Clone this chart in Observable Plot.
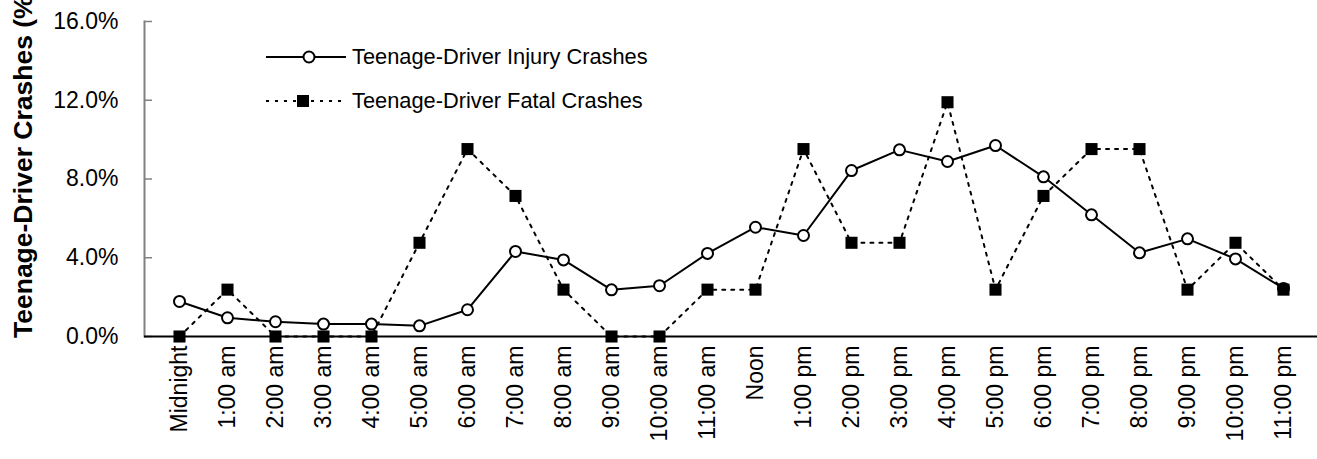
<!DOCTYPE html>
<html><head><meta charset="utf-8">
<script src="https://cdn.jsdelivr.net/npm/d3@7"></script>
<script src="https://cdn.jsdelivr.net/npm/@observablehq/plot@0.6"></script>
<style>
body{margin:0;background:#fff;font-family:"Liberation Sans",Arial,sans-serif;}
#wrap{position:relative;width:1317px;height:459px;overflow:hidden;background:#fff;}
.legend{position:absolute;left:266px;height:24px;font-size:21.8px;display:flex;align-items:center;color:#000;white-space:nowrap;}
.legend svg{margin-right:6px;}
</style></head><body><div id="wrap"></div>
<script>
const hours = ["Midnight","1:00 am","2:00 am","3:00 am","4:00 am","5:00 am","6:00 am","7:00 am","8:00 am","9:00 am","10:00 am","11:00 am","Noon","1:00 pm","2:00 pm","3:00 pm","4:00 pm","5:00 pm","6:00 pm","7:00 pm","8:00 pm","9:00 pm","10:00 pm","11:00 pm"];
const injury = [1.78, 0.95, 0.75, 0.63, 0.63, 0.54, 1.36, 4.32, 3.89, 2.37, 2.58, 4.22, 5.55, 5.13, 8.43, 9.48, 8.89, 9.70, 8.11, 6.18, 4.25, 4.96, 3.94, 2.44];
const fatal = [0, 2.38, 0, 0, 0, 4.76, 9.52, 7.14, 2.38, 0, 0, 2.38, 2.38, 9.52, 4.76, 4.76, 11.90, 2.38, 7.14, 9.52, 9.52, 2.38, 4.76, 2.38];
const yTicks = [0, 4, 8, 12, 16];
const seriesNames = ["Teenage-Driver Injury Crashes", "Teenage-Driver Fatal Crashes"];
const yLabel = "Teenage-Driver Crashes (%)";

const injuryData = hours.map((h, i) => ({hour: h, value: injury[i]}));
const fatalData = hours.map((h, i) => ({hour: h, value: fatal[i]}));

const chart = Plot.plot({
  width: 1317, height: 459,
  marginTop: 21, marginBottom: 123, marginLeft: 144, marginRight: 0,
  style: {fontFamily: "'Liberation Sans', Arial, sans-serif", color: "black", background: "white", overflow: "hidden"},
  x: {type: "point", domain: hours, padding: 0.5},
  y: {domain: [0, 16]},
  marks: [
    Plot.frame({anchor: "left", stroke: "#808080", strokeWidth: 2}),
    Plot.axisY({ticks: yTicks, tickFormat: d => d.toFixed(1) + "%", tickSize: 0, tickPadding: 26,
      fill: "black", fontSize: 23, label: null}),
    Plot.axisY({ticks: yTicks, tickFormat: () => "", tickSize: 8, dx: 8, stroke: "#808080", strokeWidth: 1.5, label: null}),
    Plot.axisX({tickSize: 0, tickRotate: -90, tickPadding: 9, fontSize: 23, fill: "black", label: null}),
    Plot.ruleY([0], {stroke: "black", strokeWidth: 2}),
    Plot.lineY(fatalData, {x: "hour", y: "value", stroke: "black", strokeWidth: 2, strokeDasharray: "3,6"}),
    Plot.lineY(injuryData, {x: "hour", y: "value", stroke: "black", strokeWidth: 2}),
    Plot.dot(injuryData, {x: "hour", y: "value", r: 5.5, fill: "white", stroke: "black", strokeWidth: 2}),
    Plot.dot(fatalData, {x: "hour", y: "value", symbol: "square", r: 6.8, fill: "black", stroke: "none"})
  ]
});

d3.select(chart).append("text")
  .attr("transform", "translate(32,338) rotate(-90)")
  .attr("text-anchor", "start")
  .attr("font-weight", "bold")
  .attr("font-size", 26.5)
  .attr("fill", "black")
  .text(yLabel);

const wrap = document.getElementById("wrap");
wrap.appendChild(chart);

function legendRow(top, name, dashed, square) {
  const div = document.createElement("div");
  div.className = "legend";
  div.style.top = top + "px";
  const s = d3.create("svg").attr("width", 80).attr("height", 24);
  s.append("line").attr("x1", 0).attr("x2", 80).attr("y1", 12).attr("y2", 12)
    .attr("stroke", "black").attr("stroke-width", 2).attr("stroke-dasharray", dashed ? "3,6" : null);
  if (square) s.append("rect").attr("x", 31).attr("y", 6).attr("width", 12).attr("height", 12).attr("fill", "black");
  else s.append("circle").attr("cx", 43).attr("cy", 12).attr("r", 5.5).attr("fill", "white").attr("stroke", "black").attr("stroke-width", 2);
  div.appendChild(s.node());
  const t = document.createElement("span");
  t.textContent = name;
  div.appendChild(t);
  wrap.appendChild(div);
}
legendRow(45, seriesNames[0], false, false);
legendRow(89, seriesNames[1], true, true);
</script>
</body></html>
